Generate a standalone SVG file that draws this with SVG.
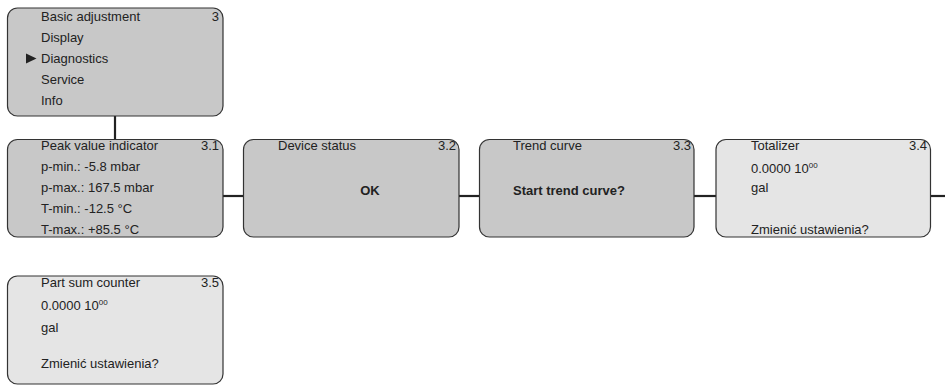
<svg xmlns="http://www.w3.org/2000/svg" width="945" height="385" viewBox="0 0 945 385">
<style>
.box{fill:#c8c8c8;stroke:#333;stroke-width:1.2}
.lbox{fill:#e5e5e5;stroke:#333;stroke-width:1.2}
text{font-family:"Liberation Sans",Arial,sans-serif;font-size:13px;fill:#222}
.r{text-anchor:end}
.b{font-weight:bold}
.sup{font-size:8px}
.c{stroke:#222;stroke-width:2.2;fill:none}
</style>
<rect width="945" height="385" fill="#fff"/>
<g id="connectors">
<line class="c" x1="115" y1="116" x2="115" y2="139"/>
<line class="c" x1="223" y1="196" x2="243" y2="196"/>
<line class="c" x1="459" y1="196" x2="479" y2="196"/>
<line class="c" x1="694" y1="196" x2="716" y2="196"/>
<line class="c" x1="931" y1="196" x2="945" y2="196"/>
</g>
<g id="n3">
<rect class="box" x="7.5" y="8" width="215.5" height="108" rx="10"/>
<text x="41" y="21">Basic adjustment</text>
<text class="r" x="219" y="21">3</text>
<text x="41" y="42">Display</text>
<polygon points="26,53.5 36.5,58.5 26,63.5" fill="#222"/>
<text x="41" y="63">Diagnostics</text>
<text x="41" y="84">Service</text>
<text x="41" y="105">Info</text>
</g>
<g id="n3_1">
<rect class="box" x="7.5" y="139.5" width="215.5" height="97.5" rx="10"/>
<text x="41" y="150">Peak value indicator</text>
<text class="r" x="219" y="150">3.1</text>
<text x="41" y="171">p-min.: -5.8 mbar</text>
<text x="41" y="192">p-max.: 167.5 mbar</text>
<text x="41" y="213">T-min.: -12.5 °C</text>
<text x="41" y="234">T-max.: +85.5 °C</text>
</g>
<g id="n3_2">
<rect class="box" x="243.5" y="139.5" width="215.5" height="97.5" rx="10"/>
<text x="278" y="150">Device status</text>
<text class="r" x="456" y="150">3.2</text>
<text class="b" x="370" y="195" text-anchor="middle">OK</text>
</g>
<g id="n3_3">
<rect class="box" x="479.5" y="139.5" width="214.5" height="97.5" rx="10"/>
<text x="513" y="150">Trend curve</text>
<text class="r" x="691" y="150">3.3</text>
<text class="b" x="513" y="195">Start trend curve?</text>
</g>
<g id="n3_4">
<rect class="lbox" x="716" y="139.5" width="214.5" height="97.5" rx="10"/>
<text x="751" y="150">Totalizer</text>
<text class="r" x="927" y="150">3.4</text>
<text x="751" y="173">0.0000 10<tspan class="sup" dy="-5">00</tspan></text>
<text x="751" y="192">gal</text>
<text x="751" y="234">Zmienić ustawienia?</text>
</g>
<g id="n3_5">
<rect class="lbox" x="7.5" y="276" width="215.5" height="108" rx="10"/>
<text x="41" y="287">Part sum counter</text>
<text class="r" x="219" y="287">3.5</text>
<text x="41" y="310">0.0000 10<tspan class="sup" dy="-5">00</tspan></text>
<text x="41" y="332">gal</text>
<text x="41" y="368">Zmienić ustawienia?</text>
</g>
</svg>
